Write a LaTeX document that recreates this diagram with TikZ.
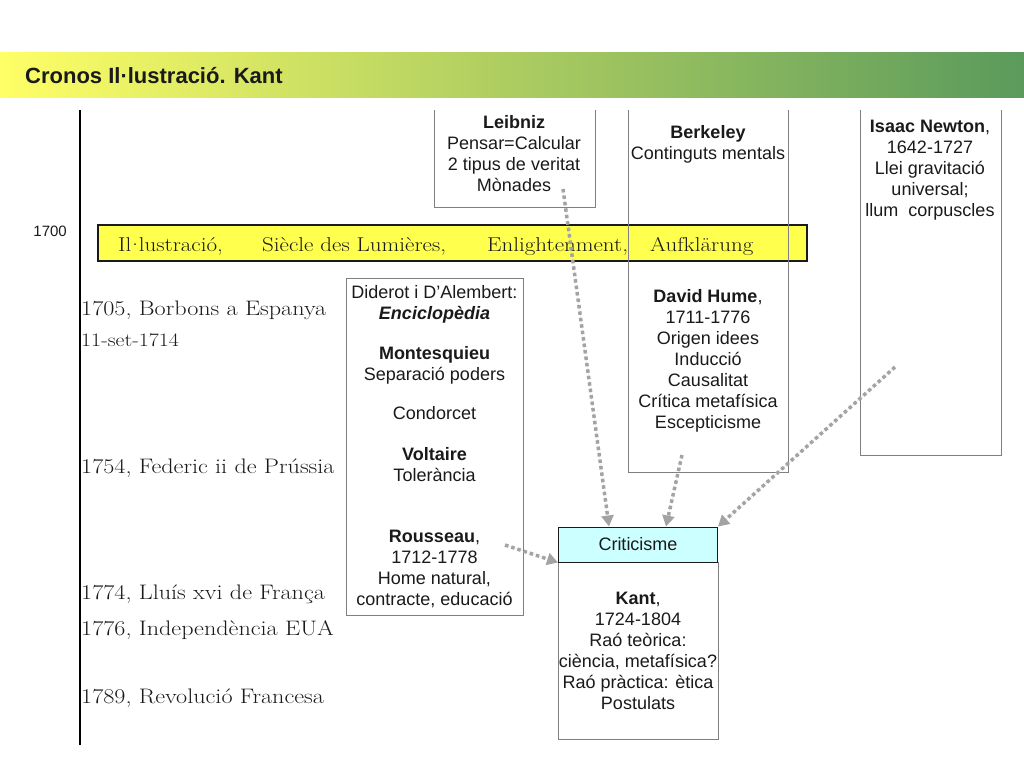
\documentclass[tikz,border=0pt]{standalone}
\usepackage{fontspec}
\setsansfont{Liberation Sans}
\usetikzlibrary{arrows.meta,positioning,calc}
\definecolor{ink}{HTML}{1A1A1A}
\definecolor{frame}{HTML}{7F7F7F}
\definecolor{banner}{HTML}{FFFF4D}
\definecolor{crit}{HTML}{CCFFFF}
\definecolor{dots}{HTML}{A3A3A3}
\definecolor{barleft}{HTML}{FFFF66}
\definecolor{barmid}{HTML}{DCE46A}
\definecolor{barright}{HTML}{5A9A5C}
\newcommand{\hw}[1]{\scalebox{1.15}[1]{#1}}
\newcommand{\ldot}{\kern-0.2em·\kern-0.2em}
\tikzset{
  every node/.style={text=ink},
  body/.style={font=\sffamily\fontsize{18}{21}\selectfont,align=center,inner sep=0pt},
  hand/.style={font=\rmfamily\fontsize{21}{24}\selectfont,anchor=base west,inner sep=0pt},
  smallhand/.style={hand,font=\rmfamily\fontsize{19}{22}\selectfont},
  bannertext/.style={hand,font=\rmfamily\fontsize{20}{22}\selectfont},
  box/.style={body,draw=frame,line width=0.8pt,fill=white},
  critbox/.style={body,draw=ink,line width=1pt,fill=crit,minimum width=159,minimum height=35},
  openbox/.style={draw=frame,line width=0.8pt},
  dotarrow/.style={-{Triangle[length=11pt,width=12pt]},draw=dots,fill=dots,line width=3.5pt,dash pattern=on 3.5pt off 3pt},
}

\begin{document}
\begin{tikzpicture}[x=1pt,y=-1pt]
\useasboundingbox (0,0) rectangle (1024,768);

% title bar
\shade[left color=barleft,middle color=barmid,right color=barright] (0,53) rectangle (1024,97);
\node[font=\sffamily\bfseries\fontsize{22}{24}\selectfont,anchor=base west,inner sep=0pt] (title) at (25,83) {Cronos Il·lustració. Kant};

% time axis
\draw[line width=1.6pt] (80,110) -- (80,745);
\node[font=\sffamily\fontsize{15}{18}\selectfont,anchor=base east,inner sep=0pt] (y1700) at (67,236) {1700};

% banner
\node[draw=ink,line width=1.2pt,fill=banner,minimum width=709,minimum height=36] (lum) at (452.5,243) {};
\node[bannertext] (lumA) at (118,251) {\hw{Il\ldot lustració,}};
\node[bannertext] (lumB) at (262,251) {\hw{Siècle des Lumières,}};
\node[bannertext] (lumC) at (487,251) {\hw{Enlightenment,}};
\node[bannertext] (lumD) at (650,251) {\hw{Aufklärung}};

% open boxes (tops cut off)
\draw[openbox] (434,110) |- (595,207) -- (595,110);
\draw[openbox] (628,110) |- (788,472) -- (788,110);
\draw[openbox] (860,110) |- (1001,455) -- (1001,110);

\node[body] (leibniz) at (514,154) {\textbf{Leibniz}\\Pensar=Calcular\\2 tipus de veritat\\Mònades};
\node[body] (berkeley) at (708,144) {\textbf{Berkeley}\\Continguts mentals};
\node[body] (hume) at (708,361) {\textbf{David Hume},\\1711-1776\\Origen idees\\Inducció\\Causalitat\\Crítica metafísica\\Escepticisme};
\node[body] (newton) at (930,170) {\textbf{Isaac Newton},\\1642-1727\\Llei gravitació\\universal;\\llum\ \ corpuscles};

\node[box,minimum width=177,minimum height=337] (encicl) at (434.5,446.5)
  {Diderot i D'Alembert:\\\textbf{\textit{Enciclopèdia}}\\[19pt]\textbf{Montesquieu}\\Separació poders\\[18pt]Condorcet\\[20pt]\textbf{Voltaire}\\Tolerància\\[40pt]\textbf{Rousseau},\\1712-1778\\Home natural,\\contracte, educació};

\node[box,minimum width=160,minimum height=177] (kant) at (638,650.5)
  {\textbf{Kant},\\1724-1804\\Raó teòrica:\\ciència, metafísica?\\Raó pràctica: ètica\\Postulats};
\node[critbox] (crit) at (638,544.5) {Criticisme};

% time line events
\node[hand] (ev1705) at (81,315) {\hw{1705, Borbons a Espanya}};
\node[smallhand] (ev1714) at (81,346) {\hw{11-set-1714}};
\node[hand] (ev1754) at (81,473) {\hw{1754, Federic ii de Prússia}};
\node[hand] (ev1774) at (81,599) {\hw{1774, Lluís xvi de França}};
\node[hand] (ev1776) at (81,635) {\hw{1776, Independència EUA}};
\node[hand] (ev1789) at (81,703) {\hw{1789, Revolució Francesa}};

% influences
\coordinate (leibout) at (563,189);
\coordinate (humeout) at (682,455);
\coordinate (newtonout) at (895,367);
\coordinate (rousout) at (505,545);
\draw[dotarrow] (leibout) -- ([xshift=-29pt]crit.north);
\draw[dotarrow] (humeout) -- ([xshift=28pt]crit.north);
\draw[dotarrow] (newtonout) -- (crit.north east);
\draw[dotarrow] (rousout) -- (crit.south west);

\end{tikzpicture}
\end{document}
